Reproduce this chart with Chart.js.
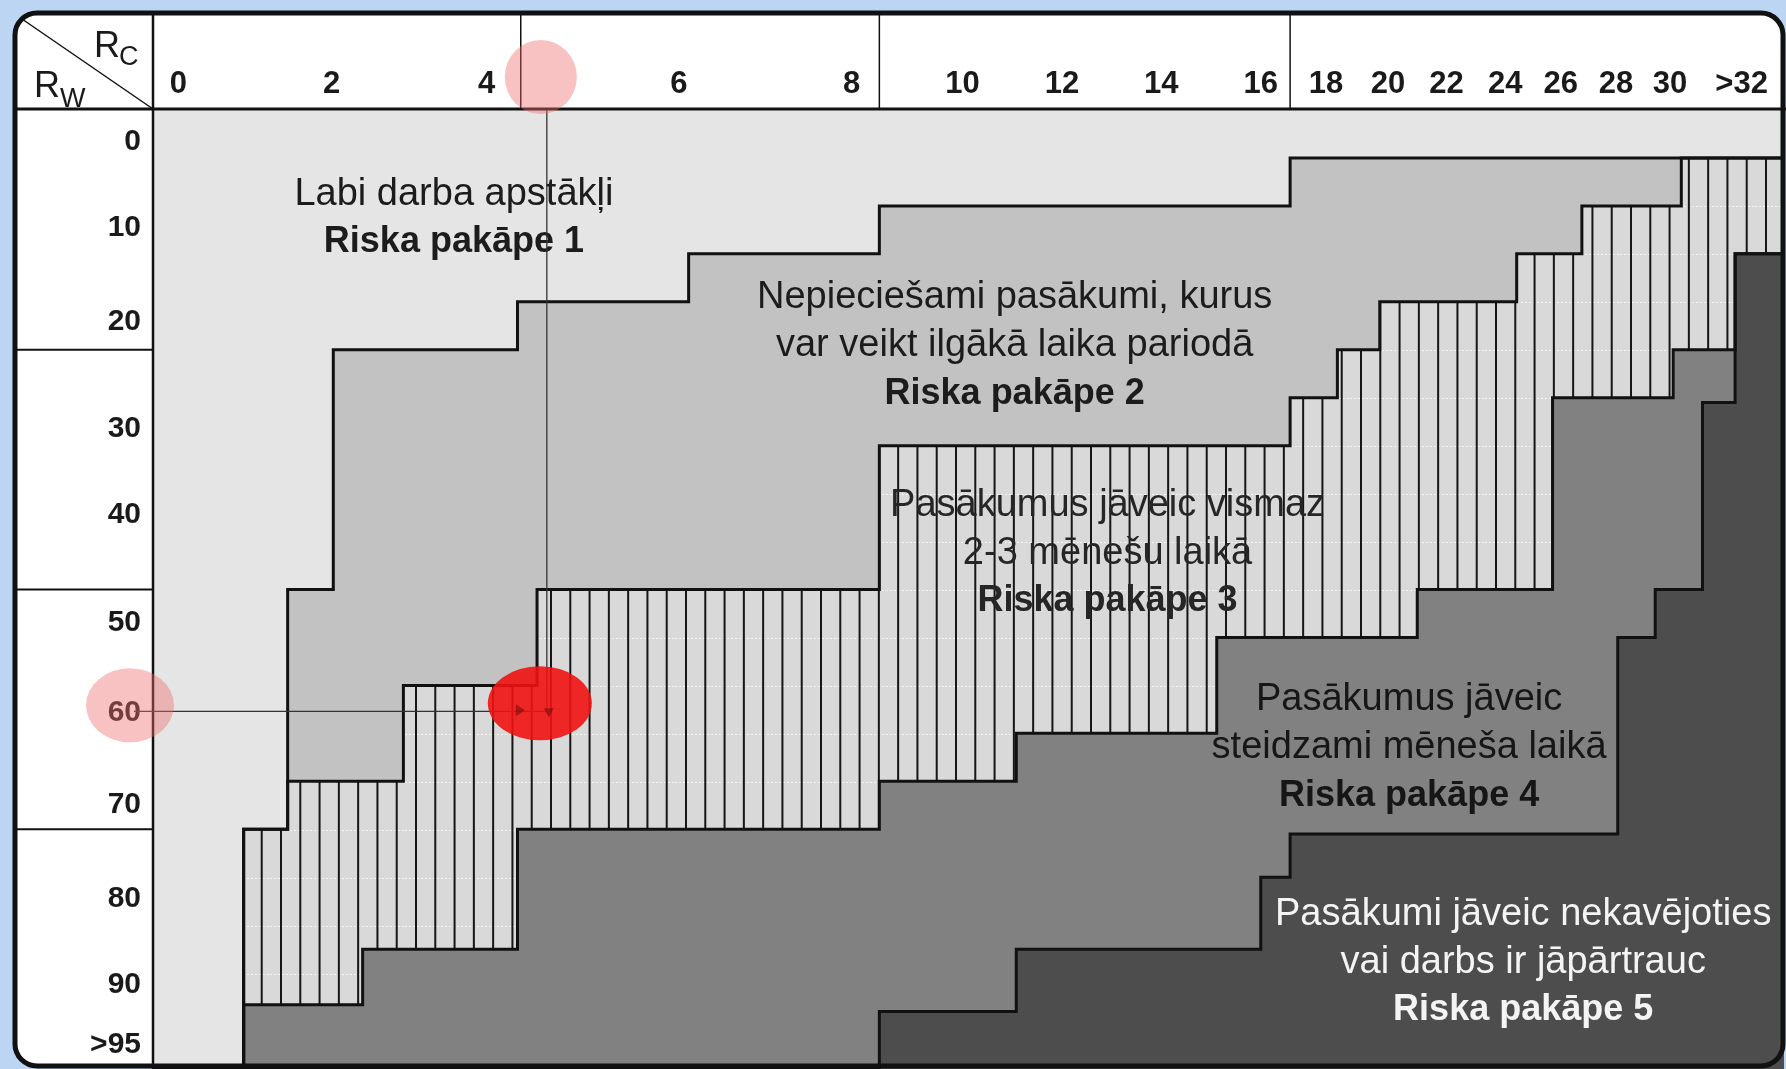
<!DOCTYPE html>
<html>
<head>
<meta charset="utf-8">
<title>Riska pakāpes</title>
<script src="https://cdn.jsdelivr.net/npm/chart.js@4.4.1/dist/chart.umd.min.js"></script>
<style>
  html, body { margin: 0; padding: 0; background: #bcd5f2; }
  #wrap { width: 1786px; height: 1069px; }
</style>
</head>
<body>
<div id="wrap"><canvas id="riskChart" width="1786" height="1069"></canvas></div>
<script>
// axis units: Rc across 0..100 (column position), Rw down 0..100
const rcTickPos = [1.5, 10.9, 20.4, 32.2, 42.8, 49.6, 55.7, 61.8, 67.9, 71.9, 75.7, 79.3, 82.9, 86.3, 89.7, 93.0, 97.4];
const rcTickLabels = ['0', '2', '4', '6', '8', '10', '12', '14', '16', '18', '20', '22', '24', '26', '28', '30', '>32'];
const rwTickPos = [3.3, 12.3, 22.1, 33.2, 42.2, 53.5, 62.8, 72.4, 82.2, 91.2, 97.5];
const rwTickLabels = ['0', '10', '20', '30', '40', '50', '60', '70', '80', '90', '>95'];

// staircase boundaries: x edges and the Rw level on each step
const b1Edges = [0, 5.5, 8.2, 11.0, 22.3, 32.8, 44.5, 69.7, 100];
const b1Levels = [100, 75, 50, 25, 20, 15, 10, 5];
const b2Edges = [0, 5.5, 8.2, 15.3, 23.5, 44.5, 69.7, 72.6, 75.2, 83.6, 87.6, 93.7, 100];
const b2Levels = [100, 75, 70, 60, 50, 35, 30, 25, 20, 15, 10, 5];
const b3Edges = [0, 5.5, 12.8, 22.3, 44.5, 52.9, 65.2, 77.5, 85.8, 93.2, 97.0, 100];
const b3Levels = [100, 93.3, 87.5, 75, 70, 65, 55, 50, 30, 25, 15];
const b4Edges = [0, 44.5, 52.9, 67.9, 69.7, 89.8, 92.1, 95.0, 97.0, 100];
const b4Levels = [100, 94, 87.5, 80, 75.5, 55, 50, 30.5, 15];

const headerDividers = [22.5, 44.5, 69.7];
const rowDividers = [25, 50, 75];

const regionText = [
  ['Labi darba apstākļi', 'Riska pakāpe 1'],
  ['Nepieciešami pasākumi, kurus', 'var veikt ilgākā laika pariodā', 'Riska pakāpe 2'],
  ['Pasākumus jāveic vismaz', '2-3 mēnešu laikā', 'Riska pakāpe 3'],
  ['Pasākumus jāveic', 'steidzami mēneša laikā', 'Riska pakāpe 4'],
  ['Pasākumi jāveic nekavējoties', 'vai darbs ir jāpārtrauc', 'Riska pakāpe 5']
];
const regionTextX = [18.4, 52.8, 58.5, 77.0, 84.0];
const regionTextY = [8.8, 19.6, 41.2, 61.5, 83.9];
const regionTextColor = ['#1c1c1c', '#1c1c1c', '#262626', '#161616', '#f4f4f4'];

// example reading: Rc ~ 4.5, Rw = 60
const marker = { rc: 24.1, rw: 62.7 };

Chart.defaults.font.family = '"Liberation Sans", Arial, sans-serif';

function stepPoints(edges, levels) {
  const pts = levels.map((lv, i) => ({ x: edges[i], y: lv }));
  pts.push({ x: edges[edges.length - 1], y: levels[levels.length - 1] });
  return pts;
}

function hatchPattern() {
  const c = document.createElement('canvas');
  c.width = 135; c.height = 48;
  const g = c.getContext('2d');
  g.fillStyle = '#d9d9d9';
  g.fillRect(0, 0, 135, 48);
  g.fillStyle = 'rgba(246,246,246,0.9)';
  for (let x = 0; x < 135; x += 4) g.fillRect(x, 14, 2, 1);
  g.fillStyle = '#161616';
  for (let k = 0; k < 7; k++) g.fillRect(10 + k * 135 / 7, 0, 2, 48);
  return g.createPattern(c, 'repeat');
}

function boundary(edges, levels, fill, bg) {
  return {
    data: stepPoints(edges, levels),
    stepped: 'before',
    fill: fill,
    backgroundColor: bg,
    borderColor: '#111',
    borderWidth: 3,
    pointRadius: 0,
    borderJoinStyle: 'miter',
    borderCapStyle: 'square'
  };
}

function roundRect(c, x, y, w, h, r) {
  c.beginPath();
  c.moveTo(x + r, y);
  c.arcTo(x + w, y, x + w, y + h, r);
  c.arcTo(x + w, y + h, x, y + h, r);
  c.arcTo(x, y + h, x, y, r);
  c.arcTo(x, y, x + w, y, r);
  c.closePath();
}

const frame = {
  id: 'frame',
  beforeDraw(chart) {
    const { ctx: c, chartArea: a } = chart;
    c.save();
    c.fillStyle = '#bcd5f2';
    c.fillRect(0, 0, chart.width, chart.height);
    roundRect(c, 15, 13, 1768, 1053, 22);
    c.fillStyle = '#fff';
    c.fill();
    c.fillStyle = '#e5e5e5';
    c.fillRect(a.left, a.top, a.right - a.left, a.bottom - a.top);
    c.restore();
  },
  afterDraw(chart) {
    const { ctx: c, chartArea: a, scales } = chart;
    const px = v => scales.x.getPixelForValue(v);
    const py = v => scales.y.getPixelForValue(v);
    c.save();

    // region captions
    c.textAlign = 'center';
    c.textBaseline = 'middle';
    regionText.forEach((lines, r) => {
      lines.forEach((t, i) => {
        const bold = i === lines.length - 1;
        c.font = (bold ? 'bold 36px ' : '38px ') + '"Liberation Sans", Arial, sans-serif';
        c.fillStyle = regionTextColor[r];
        c.fillText(t, px(regionTextX[r]), py(regionTextY[r] + i * 5));
      });
    });

    // header and label column lines
    c.strokeStyle = '#111';
    c.lineWidth = 1.5;
    headerDividers.forEach(v => {
      c.beginPath(); c.moveTo(px(v), 14); c.lineTo(px(v), a.top); c.stroke();
    });
    c.lineWidth = 2;
    rowDividers.forEach(v => {
      c.beginPath(); c.moveTo(15, py(v)); c.lineTo(a.left, py(v)); c.stroke();
    });
    c.lineWidth = 3;
    c.beginPath(); c.moveTo(15, a.top - 1); c.lineTo(chart.width, a.top - 1); c.stroke();
    c.lineWidth = 2.5;
    c.beginPath(); c.moveTo(a.left - 1, 14); c.lineTo(a.left - 1, chart.height); c.stroke();
    c.lineWidth = 1.5;
    c.beginPath(); c.moveTo(22, 19); c.lineTo(a.left - 1, a.top - 1); c.stroke();

    // corner: Rc / Rw
    c.fillStyle = '#1a1a1a';
    c.textAlign = 'left';
    c.textBaseline = 'alphabetic';
    c.font = '36px "Liberation Sans", Arial, sans-serif';
    c.fillText('R', 94, 57);
    c.fillText('R', 34, 97);
    c.font = '27px "Liberation Sans", Arial, sans-serif';
    c.fillText('C', 119, 65);
    c.fillText('W', 60, 107);

    // reading lines
    const mx = px(marker.rc), my = py(marker.rw);
    c.strokeStyle = '#333';
    c.lineWidth = 1.3;
    c.beginPath(); c.moveTo(mx, a.top); c.lineTo(mx, my); c.stroke();
    c.beginPath(); c.moveTo(a.left - 20, my); c.lineTo(mx, my); c.stroke();

    // highlight circles
    c.fillStyle = 'rgba(238,110,110,0.42)';
    c.beginPath(); c.ellipse(mx - 6, a.top - 33, 36, 37, 0, 0, Math.PI * 2); c.fill();
    c.beginPath(); c.ellipse(a.left - 24, my - 6, 44, 37, 0, 0, Math.PI * 2); c.fill();
    c.fillStyle = 'rgba(240,18,18,0.9)';
    c.beginPath(); c.ellipse(mx - 7, my - 8, 52, 37, 0, 0, Math.PI * 2); c.fill();
    c.fillStyle = 'rgba(120,10,10,0.6)';
    c.beginPath(); c.moveTo(mx - 31, my - 7); c.lineTo(mx - 22, my - 1); c.lineTo(mx - 31, my + 5); c.fill();
    c.beginPath(); c.moveTo(mx - 3, my - 3); c.lineTo(mx + 7, my - 3); c.lineTo(mx + 2, my + 6); c.fill();

    // outer frame
    c.strokeStyle = '#111';
    c.lineWidth = 5;
    roundRect(c, 15, 13, 1768, 1053, 22);
    c.stroke();
    c.restore();
  }
};

const ctx = document.getElementById('riskChart').getContext('2d');
const riskChart = new Chart(ctx, {
  type: 'line',
  data: {
    datasets: [
      boundary(b1Edges, b1Levels, '+1', '#c2c2c2'),
      boundary(b2Edges, b2Levels, '+1', hatchPattern()),
      boundary(b3Edges, b3Levels, '+1', '#818181'),
      boundary(b4Edges, b4Levels, { value: 100 }, '#4d4d4d')
    ]
  },
  options: {
    responsive: false,
    animation: false,
    devicePixelRatio: 1,
    events: [],
    layout: { padding: { top: 0, left: 0, right: 2, bottom: 0 } },
    plugins: {
      legend: { display: false },
      tooltip: { enabled: false },
      filler: { drawTime: 'beforeDatasetsDraw' }
    },
    scales: {
      x: {
        type: 'linear',
        position: 'top',
        min: 0,
        max: 100,
        grid: { display: false, drawTicks: false },
        border: { display: false },
        afterBuildTicks: s => { s.ticks = rcTickPos.map(v => ({ value: v })); },
        afterFit: s => { s.height = 110; s.paddingLeft = 0; s.paddingRight = 0; },
        ticks: {
          autoSkip: false,
          maxRotation: 0,
          padding: 7,
          color: '#1a1a1a',
          font: { size: 31, weight: 'bold' },
          callback: (v, i) => rcTickLabels[i]
        }
      },
      y: {
        type: 'linear',
        reverse: true,
        min: 0,
        max: 100,
        grid: { display: false, drawTicks: false },
        border: { display: false },
        afterBuildTicks: s => { s.ticks = rwTickPos.map(v => ({ value: v })); },
        afterFit: s => { s.width = 154; s.paddingTop = 0; s.paddingBottom = 0; },
        ticks: {
          autoSkip: false,
          padding: 13,
          color: '#1a1a1a',
          font: { size: 30, weight: 'bold' },
          callback: (v, i) => rwTickLabels[i]
        }
      }
    }
  },
  plugins: [frame]
});
</script>
</body>
</html>
